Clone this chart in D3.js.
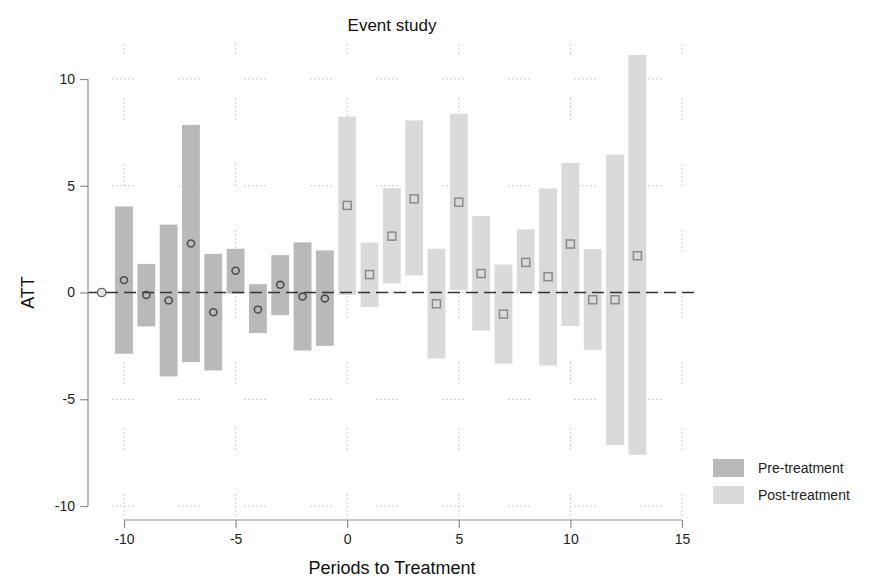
<!DOCTYPE html>
<html>
<head>
<meta charset="utf-8">
<script src="https://cdn.jsdelivr.net/npm/d3@7"></script>
<style>
  html, body { margin: 0; padding: 0; background: #fff; }
  svg { display: block; font-family: "Liberation Sans", Arial, Helvetica, sans-serif; }
</style>
</head>
<body>
<svg id="chart" width="873" height="578"></svg>
<script>
// ---- data ----
const refPeriod = [-11];
const refEst = [0];

const prePeriods = [-10, -9, -8, -7, -6, -5, -4, -3, -2, -1];
const preEst = [0.58, -0.12, -0.37, 2.30, -0.92, 1.02, -0.80, 0.36, -0.19, -0.28];
const preLo  = [-2.87, -1.59, -3.93, -3.26, -3.65, -0.05, -1.90, -1.06, -2.72, -2.50];
const preHi  = [4.03, 1.34, 3.18, 7.85, 1.81, 2.05, 0.39, 1.75, 2.35, 1.97];

const postPeriods = [0, 1, 2, 3, 4, 5, 6, 7, 8, 9, 10, 11, 12, 13];
const postEst = [4.08, 0.84, 2.64, 4.39, -0.53, 4.23, 0.89, -1.01, 1.41, 0.74, 2.27, -0.34, -0.34, 1.72];
const postLo  = [-0.11, -0.68, 0.42, 0.80, -3.09, 0.12, -1.79, -3.33, 0.05, -3.42, -1.57, -2.70, -7.15, -7.60];
const postHi  = [8.24, 2.34, 4.89, 8.06, 2.05, 8.37, 3.58, 1.31, 2.96, 4.87, 6.07, 2.03, 6.45, 11.13];

const xTicks = [-10, -5, 0, 5, 10, 15];
const yTicks = [-10, -5, 0, 5, 10];
const legendLabels = ["Pre-treatment", "Post-treatment"];

// ---- layout ----
const svg = d3.select("#chart");
const x = d3.scaleLinear().domain([-10, 15]).range([124, 682]);
const y = d3.scaleLinear().domain([-10, 10]).range([506, 79]);
const yAxisX = 88;
const xAxisY = 520;
const barW = (x(1) - x(0)) * 0.8;
const preColor = "#b9b9b9";
const postColor = "#dadada";
const gridDash = "2 2 2 2 2 2 2 2 2 2 2 44";
const fmt = d => String(d);

// grid
const grid = svg.append("g").attr("stroke", "#cccccc").attr("stroke-width", 1)
  .attr("stroke-dasharray", gridDash).attr("fill", "none");
grid.selectAll("line.v").data(xTicks).join("line")
  .attr("x1", d => x(d)).attr("x2", d => x(d))
  .attr("y1", 43).attr("y2", 518)
  .attr("stroke-dashoffset", 11);
grid.selectAll("line.h").data(yTicks).join("line")
  .attr("x1", 112).attr("x2", 682)
  .attr("y1", d => y(d)).attr("y2", d => y(d));

// bars
svg.append("g").selectAll("rect").data(prePeriods).join("rect")
  .attr("x", d => x(d) - barW / 2)
  .attr("width", barW)
  .attr("y", (d, i) => y(preHi[i]))
  .attr("height", (d, i) => y(preLo[i]) - y(preHi[i]))
  .attr("fill", preColor);
svg.append("g").selectAll("rect").data(postPeriods).join("rect")
  .attr("x", d => x(d) - barW / 2)
  .attr("width", barW)
  .attr("y", (d, i) => y(postHi[i]))
  .attr("height", (d, i) => y(postLo[i]) - y(postHi[i]))
  .attr("fill", postColor);

// zero line
svg.append("line")
  .attr("x1", yAxisX).attr("x2", x(15.7))
  .attr("y1", y(0)).attr("y2", y(0))
  .attr("stroke", "#333").attr("stroke-width", 1.7)
  .attr("stroke-dasharray", "12 6");

// markers
svg.append("g").selectAll("ellipse").data(refPeriod).join("ellipse")
  .attr("cx", d => x(d)).attr("cy", (d, i) => y(refEst[i]))
  .attr("rx", 4.3).attr("ry", 4.1)
  .attr("fill", "#e6e6e6").attr("stroke", "#666").attr("stroke-width", 1.4);
svg.append("g").selectAll("ellipse").data(prePeriods).join("ellipse")
  .attr("cx", d => x(d)).attr("cy", (d, i) => y(preEst[i]))
  .attr("rx", 3.6).attr("ry", 3.4)
  .attr("fill", "none").attr("stroke", "#4d4d4d").attr("stroke-width", 1.6);
const sq = 8;
svg.append("g").selectAll("rect").data(postPeriods).join("rect")
  .attr("x", d => x(d) - sq / 2)
  .attr("y", (d, i) => y(postEst[i]) - sq / 2)
  .attr("width", sq).attr("height", sq)
  .attr("fill", "none").attr("stroke", "#8a8a8a").attr("stroke-width", 1.5);

// axes
const yAxis = svg.append("g").attr("transform", `translate(${yAxisX},0)`)
  .call(d3.axisLeft(y).tickValues(yTicks).tickSize(8).tickPadding(5).tickFormat(fmt));
const xAxis = svg.append("g").attr("transform", `translate(0,${xAxisY})`)
  .call(d3.axisBottom(x).tickValues(xTicks).tickSize(8).tickPadding(6).tickFormat(fmt));
[yAxis, xAxis].forEach(a => {
  a.select(".domain").attr("stroke", "#8c8c8c").attr("stroke-width", 1.2);
  a.selectAll(".tick line").attr("stroke", "#8c8c8c").attr("stroke-width", 1.2);
  a.selectAll(".tick text").attr("fill", "#222").attr("font-size", 14)
    .attr("font-family", "Liberation Sans, Arial, sans-serif");
});
yAxis.select(".domain").attr("d", `M0,${y(10)}V${y(-10)}`);
xAxis.select(".domain").attr("d", `M${x(-10)},0H${x(15)}`);

// titles
svg.append("text").attr("x", 392).attr("y", 31).attr("text-anchor", "middle")
  .attr("font-size", 17).attr("fill", "#111").text("Event study");
svg.append("text").attr("x", 392).attr("y", 574).attr("text-anchor", "middle")
  .attr("font-size", 18).attr("fill", "#111").text("Periods to Treatment");
svg.append("text").attr("transform", `translate(34,${y(0)}) rotate(-90)`)
  .attr("text-anchor", "middle").attr("font-size", 18).attr("fill", "#111").text("ATT");

// legend
const legend = svg.append("g");
const legendColors = [preColor, postColor];
legend.selectAll("rect").data(legendLabels).join("rect")
  .attr("x", 713).attr("y", (d, i) => 459 + i * 27)
  .attr("width", 31).attr("height", 18)
  .attr("fill", (d, i) => legendColors[i]);
legend.selectAll("text").data(legendLabels).join("text")
  .attr("x", 758).attr("y", (d, i) => 473 + i * 27)
  .attr("font-size", 14).attr("fill", "#222").text(d => d);
</script>
</body>
</html>
